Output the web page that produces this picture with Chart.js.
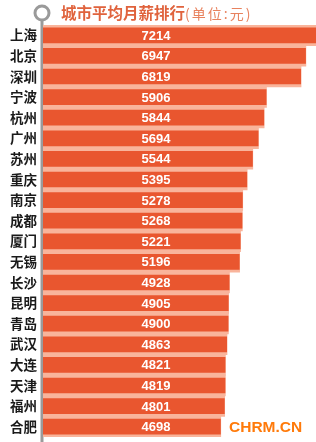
<!DOCTYPE html>
<html>
<head>
<meta charset="utf-8">
<script src="https://cdn.jsdelivr.net/npm/chart.js@4"></script>
<style>
  html, body { margin: 0; padding: 0; background: #fff; }
  #wrap { position: relative; width: 316px; height: 442px; overflow: hidden; }
  #title { position: absolute; left: 61px; top: 1px; font-family: "Noto Sans CJK SC"; font-weight: bold; font-size: 15.5px; color: #e0633d; white-space: nowrap; }
  #title span { font-weight: normal; font-size: 14px; letter-spacing: 2px; color: #e8825e; }
  #mark { position: absolute; left: 229px; top: 418px; font-family: "Liberation Sans", Arial; font-weight: bold; font-size: 15.5px; color: #ff7a0a; }
</style>
</head>
<body>
<div id="wrap">
  <canvas id="chart" width="316" height="442"></canvas>
  <div id="title">城市平均月薪排行<span>(单位:元)</span></div>
  <div id="mark">CHRM.CN</div>
</div>
<script>
// city list and average monthly salary (yuan)
const cities = ["上海", "北京", "深圳", "宁波", "杭州", "广州", "苏州", "重庆", "南京", "成都",
  "厦门", "无锡", "长沙", "昆明", "青岛", "武汉", "大连", "天津", "福州", "合肥"];
const salary = [7214, 6947, 6819, 5906, 5844, 5694, 5544, 5395, 5278, 5268,
  5221, 5196, 4928, 4905, 4900, 4863, 4821, 4819, 4801, 4698];

const ORANGE = "#e9562f";
const PINK = "#f9b49b";

// gray rail with the ring at top + value labels
const decor = {
  id: "decor",
  beforeDraw(chart) {
    const ctx = chart.ctx;
    const x = chart.chartArea.left - 1;
    ctx.save();
    ctx.strokeStyle = "#9a9a9a";
    ctx.lineWidth = 3;
    ctx.beginPath();
    ctx.moveTo(x, 20);
    ctx.lineTo(x, 442);
    ctx.stroke();
    ctx.beginPath();
    ctx.arc(x, 13, 7, 0, Math.PI * 2);
    ctx.fillStyle = "#fff";
    ctx.fill();
    ctx.lineWidth = 3;
    ctx.stroke();
    ctx.restore();
  },
  afterDatasetsDraw(chart) {
    const ctx = chart.ctx;
    const meta = chart.getDatasetMeta(1);
    ctx.save();
    ctx.fillStyle = "#fff";
    ctx.font = "bold 13px 'Liberation Sans', Arial";
    ctx.textAlign = "center";
    ctx.textBaseline = "middle";
    meta.data.forEach((bar, i) => {
      ctx.fillText(String(salary[i]), chart.chartArea.left + 113, bar.y + 1);
    });
    ctx.restore();
  }
};

new Chart(document.getElementById("chart"), {
  type: "bar",
  data: {
    labels: cities,
    datasets: [
      {
        data: salary,
        backgroundColor: PINK,
        categoryPercentage: 1,
        barPercentage: 1,
        grouped: false,
        order: 2
      },
      {
        data: salary,
        backgroundColor: ORANGE,
        categoryPercentage: 1,
        barPercentage: 0.76,
        grouped: false,
        order: 1
      }
    ]
  },
  options: {
    indexAxis: "y",
    responsive: false,
    animation: false,
    layout: { padding: { top: 25, bottom: 5, left: 10, right: 0 } },
    plugins: { legend: { display: false }, tooltip: { enabled: false } },
    scales: {
      x: { display: false, min: 0, max: 7214 },
      y: {
        grid: { display: false, drawTicks: true, tickLength: 6 },
        border: { display: false },
        ticks: {
          color: "#1a1a1a",
          padding: 0,
          font: { family: "Noto Sans CJK SC", weight: "bold", size: 13.5, lineHeight: 0.5 }
        }
      }
    }
  },
  plugins: [decor]
});
</script>
</body>
</html>
